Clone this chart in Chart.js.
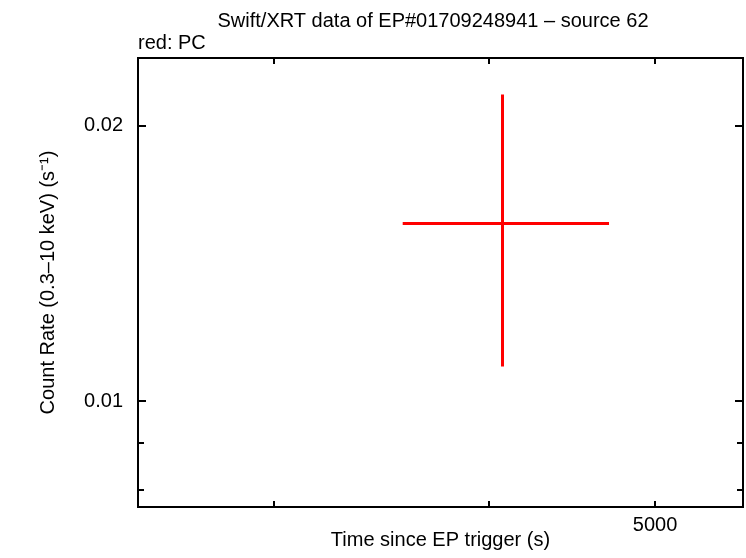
<!DOCTYPE html>
<html>
<head>
<meta charset="utf-8">
<script src="https://cdn.jsdelivr.net/npm/chart.js@4/dist/chart.umd.min.js"></script>
<style>
html,body{margin:0;padding:0;background:#fff;}
#c{display:block;}
</style>
</head>
<body>
<canvas id="c" width="746" height="558"></canvas>
<script>
// ---- data ----
const times    = [4074];     // bin centre (s)
const timeLow  = [3565];     // bin start (s)
const timeHigh = [4701];     // bin end (s)
const rates    = [0.01566];  // count rate (s^-1)
const rateLow  = [0.010915];
const rateHigh = [0.02162];

const xTicks = [3000, 4000, 5000];
const xLabels = ['', '', '5000'];
const yTicks = [0.008, 0.009, 0.01, 0.02];
const yLabels = ['', '', '0.01', '0.02'];

const xMin = 2500, xMax = 5626;
const yMin = 0.00767, yMax = 0.0237;

const titleText = 'Swift/XRT data of EP#01709248941 \u2013 source 62';
const subtitleText = 'red: PC';

const FONT = '"Liberation Sans", Arial, Helvetica, sans-serif';
const FS = 20;

const points = times.map((t, i) => ({x: t, y: rates[i]}));

const errorBars = {
  id: 'errorBars',
  afterDatasetsDraw(chart) {
    const {ctx, scales: {x, y}} = chart;
    ctx.save();
    ctx.strokeStyle = '#ff0000';
    ctx.lineWidth = 3;
    ctx.lineCap = 'butt';
    times.forEach((t, i) => {
      const px = Math.round(x.getPixelForValue(t)) + 0.5, py = Math.round(y.getPixelForValue(rates[i])) + 0.5;
      ctx.beginPath();
      ctx.moveTo(x.getPixelForValue(timeLow[i]), py);
      ctx.lineTo(x.getPixelForValue(timeHigh[i]), py);
      ctx.moveTo(px, y.getPixelForValue(rateHigh[i]));
      ctx.lineTo(px, y.getPixelForValue(rateLow[i]));
      ctx.stroke();
    });
    ctx.restore();
  }
};

const frame = {
  id: 'frame',
  afterDraw(chart) {
    const {ctx, chartArea: a, scales: {x, y}} = chart;
    ctx.save();
    ctx.strokeStyle = '#000';
    ctx.lineWidth = 2;
    ctx.beginPath();
    x.ticks.forEach((tk, i) => {
      const px = Math.round(x.getPixelForValue(tk.value));
      const len = 6;
      ctx.moveTo(px, a.bottom); ctx.lineTo(px, a.bottom - len);
      ctx.moveTo(px, a.top); ctx.lineTo(px, a.top + len);
    });
    y.ticks.forEach((tk, i) => {
      const py = Math.round(y.getPixelForValue(tk.value));
      const len = yLabels[i] ? 8 : 6;
      ctx.moveTo(a.left, py); ctx.lineTo(a.left + len, py);
      ctx.moveTo(a.right, py); ctx.lineTo(a.right - len, py);
    });
    ctx.stroke();
    ctx.lineWidth = 2;
    ctx.strokeRect(a.left, a.top, a.right - a.left, a.bottom - a.top);
    // titles
    ctx.fillStyle = '#000';
    ctx.textBaseline = 'alphabetic';
    ctx.font = FS + 'px ' + FONT;
    ctx.textAlign = 'center';
    ctx.fillText(titleText, 433, 27);
    ctx.textAlign = 'left';
    ctx.fillText(subtitleText, 138, 49);
    ctx.restore();
  }
};

new Chart(document.getElementById('c'), {
  type: 'scatter',
  data: {
    datasets: [{
      label: 'PC',
      data: points,
      pointRadius: 0,
      showLine: false,
      borderColor: '#ff0000',
      backgroundColor: '#ff0000'
    }]
  },
  options: {
    responsive: false,
    animation: false,
    devicePixelRatio: 1,
    layout: {padding: {left: 0, right: 3, top: 58, bottom: 0}},
    plugins: {legend: {display: false}, tooltip: {enabled: false}, title: {display: false}},
    scales: {
      x: {
        type: 'logarithmic',
        min: xMin, max: xMax,
        grid: {display: false, drawTicks: false},
        border: {display: false},
        afterBuildTicks(s) { s.ticks = xTicks.map(v => ({value: v})); },
        afterFit(s) { s.height = 51; },
        ticks: {
          autoSkip: false, maxRotation: 0, padding: 6,
          color: '#000', font: {family: FONT, size: FS},
          callback(v, i) { return xLabels[i]; }
        },
        title: {
          display: true, text: 'Time since EP trigger (s)', color: '#000',
          font: {family: FONT, size: FS, lineHeight: 1.2}, padding: {top: 0, bottom: 6}
        }
      },
      y: {
        type: 'logarithmic',
        min: yMin, max: yMax,
        grid: {display: false, drawTicks: false},
        border: {display: false},
        afterBuildTicks(s) { s.ticks = yTicks.map(v => ({value: v})); },
        afterFit(s) { s.width = 138; },
        ticks: {
          autoSkip: false, padding: 15,
          color: '#000', font: {family: FONT, size: FS},
          callback(v, i) { return yLabels[i]; }
        },
        title: {
          display: true, text: 'Count Rate (0.3\u201310 keV) (s\u207B\u00B9)', color: '#000',
          font: {family: FONT, size: FS, lineHeight: 1.2}, padding: {top: 36, bottom: 0}
        }
      }
    }
  },
  plugins: [errorBars, frame]
});
</script>
</body>
</html>
